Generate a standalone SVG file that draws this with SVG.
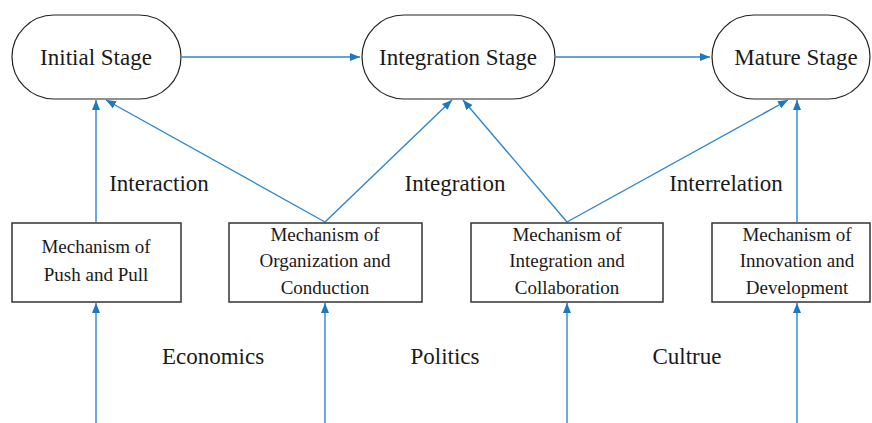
<svg xmlns="http://www.w3.org/2000/svg" width="872" height="423" viewBox="0 0 872 423">
<defs>
<marker id="ah" viewBox="0 0 10 10" refX="10" refY="5" markerWidth="10" markerHeight="10" markerUnits="userSpaceOnUse" orient="auto">
<path d="M0,1 L10,5 L0,9 Z" fill="#1F77C0"/>
</marker>
</defs>
<g id="connectors" stroke="#2E86C9" stroke-width="1.4" fill="none" marker-end="url(#ah)">
<line x1="182" y1="57" x2="360" y2="57"/>
<line x1="556" y1="57" x2="710" y2="57"/>
<line x1="96" y1="222" x2="96" y2="100"/>
<line x1="325" y1="222" x2="106" y2="100"/>
<line x1="325" y1="222" x2="452" y2="100"/>
<line x1="567" y1="222" x2="463" y2="100"/>
<line x1="567" y1="222" x2="788" y2="100"/>
<line x1="797" y1="222" x2="797" y2="100"/>
<line x1="96" y1="423" x2="96" y2="303"/>
<line x1="325" y1="423" x2="325" y2="303"/>
<line x1="567" y1="423" x2="567" y2="303"/>
<line x1="797" y1="423" x2="797" y2="303"/>
</g>
<g id="initial">
<rect x="12" y="15" width="169" height="84" rx="42" fill="#fff" stroke="#222" stroke-width="1.2"/>
<text font-family="Liberation Serif" font-size="23" text-anchor="middle" fill="#1a1a1a" x="96" y="65">Initial Stage</text>
</g>
<g id="integration">
<rect x="362" y="15" width="193" height="84" rx="42" fill="#fff" stroke="#222" stroke-width="1.2"/>
<text font-family="Liberation Serif" font-size="23" text-anchor="middle" fill="#1a1a1a" x="458" y="65">Integration Stage</text>
</g>
<g id="mature">
<rect x="712" y="15" width="158" height="84" rx="42" fill="#fff" stroke="#222" stroke-width="1.2"/>
<text font-family="Liberation Serif" font-size="23" text-anchor="middle" fill="#1a1a1a" x="796" y="65">Mature Stage</text>
</g>
<g id="push">
<rect x="12" y="223" width="169" height="79" fill="#fff" stroke="#333" stroke-width="1.5"/>
<text font-family="Liberation Serif" font-size="19" text-anchor="middle" fill="#1a1a1a" x="96" y="253">Mechanism of</text>
<text font-family="Liberation Serif" font-size="19" text-anchor="middle" fill="#1a1a1a" x="96" y="281">Push and Pull</text>
</g>
<g id="organization">
<rect x="229" y="223" width="193" height="79" fill="#fff" stroke="#333" stroke-width="1.5"/>
<text font-family="Liberation Serif" font-size="19" text-anchor="middle" fill="#1a1a1a" x="325" y="241">Mechanism of</text>
<text font-family="Liberation Serif" font-size="19" text-anchor="middle" fill="#1a1a1a" x="325" y="267">Organization and</text>
<text font-family="Liberation Serif" font-size="19" text-anchor="middle" fill="#1a1a1a" x="325" y="294">Conduction</text>
</g>
<g id="collaboration">
<rect x="471" y="223" width="192" height="79" fill="#fff" stroke="#333" stroke-width="1.5"/>
<text font-family="Liberation Serif" font-size="19" text-anchor="middle" fill="#1a1a1a" x="567" y="241">Mechanism of</text>
<text font-family="Liberation Serif" font-size="19" text-anchor="middle" fill="#1a1a1a" x="567" y="267">Integration and</text>
<text font-family="Liberation Serif" font-size="19" text-anchor="middle" fill="#1a1a1a" x="567" y="294">Collaboration</text>
</g>
<g id="innovation">
<rect x="712" y="223" width="158" height="79" fill="#fff" stroke="#333" stroke-width="1.5"/>
<text font-family="Liberation Serif" font-size="19" text-anchor="middle" fill="#1a1a1a" x="797" y="241">Mechanism of</text>
<text font-family="Liberation Serif" font-size="19" text-anchor="middle" fill="#1a1a1a" x="797" y="267">Innovation and</text>
<text font-family="Liberation Serif" font-size="19" text-anchor="middle" fill="#1a1a1a" x="797" y="294">Development</text>
</g>
<g id="labels">
<text font-family="Liberation Serif" font-size="23" text-anchor="middle" fill="#1a1a1a" x="159" y="191">Interaction</text>
<text font-family="Liberation Serif" font-size="23" text-anchor="middle" fill="#1a1a1a" x="455" y="191">Integration</text>
<text font-family="Liberation Serif" font-size="23" text-anchor="middle" fill="#1a1a1a" x="726" y="191">Interrelation</text>
<text font-family="Liberation Serif" font-size="23" text-anchor="middle" fill="#1a1a1a" x="213" y="364">Economics</text>
<text font-family="Liberation Serif" font-size="23" text-anchor="middle" fill="#1a1a1a" x="445" y="364">Politics</text>
<text font-family="Liberation Serif" font-size="23" text-anchor="middle" fill="#1a1a1a" x="687" y="364">Cultrue</text>
</g>
</svg>
